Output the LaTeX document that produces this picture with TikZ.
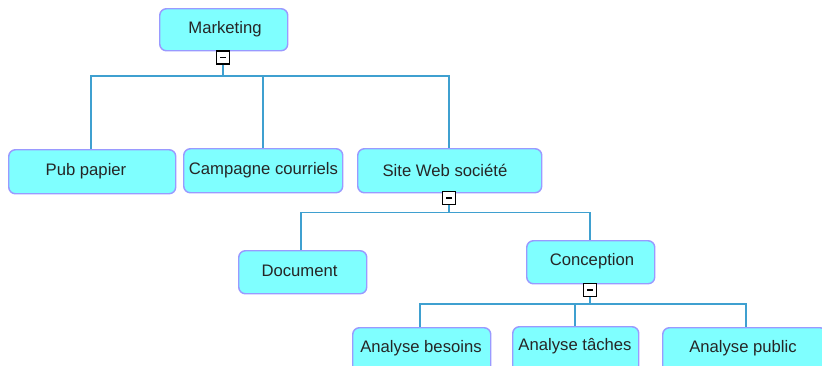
\documentclass[tikz,border=0pt]{standalone}
\usepackage{fontspec}
\setmainfont{Liberation Sans}
\definecolor{boxfill}{HTML}{7FFFFF}
\definecolor{boxline}{HTML}{9A9AFF}
\definecolor{linkc}{HTML}{3FA0D0}
\tikzset{
  x=0.75pt,y=-0.75pt,
  box/.style={draw=boxline,fill=boxfill,line width=1.1pt,rounded corners=5pt,inner sep=0pt,anchor=north west},
  lab/.style={inner sep=0pt,text=black!85,font=\fontsize{12.5}{14}\selectfont},
  link/.style={draw=linkc,line width=1.15pt},
  thinlink/.style={draw=linkc,line width=0.95pt},
  tog/.style={draw=black,fill=white,line width=1pt,minimum size=9.8pt,inner sep=0pt},
  togm/.style={fill=black,minimum width=5pt,minimum height=1.1pt,inner sep=0pt},
}
% name, left, top, right, bottom, text x, text y, text
\newcommand{\bx}[8]{\node[box,minimum width=#4*0.75pt-#2*0.75pt,minimum height=#5*0.75pt-#3*0.75pt] (#1) at (#2,#3) {};\node[lab] (#1t) at (#6,#7) {#8};}
\newcommand{\tg}[3]{\node[tog] (#1) at (#2,#3) {};\node[togm] (#1m) at (#1.center) {};}
\begin{document}
\begin{tikzpicture}
\useasboundingbox (0,0) rectangle (822,365);
\clip (0,0) rectangle (822,365);
\bx{mk}{159}{8}{287}{50}{225}{29}{Marketing}
\bx{pub}{8}{149}{175}{193}{86}{171}{Pub papier}
\bx{cam}{183}{148}{342}{192}{263.5}{170}{Campagne courriels}
\bx{site}{357}{148}{541}{192}{445}{170}{Site Web société}
\bx{doc}{238}{250}{366}{293}{299.5}{271}{Document}
\bx{con}{526}{240}{654}{283}{592}{261}{Conception}
\bx{ab}{352}{327}{490}{387}{421}{348}{Analyse besoins}
\bx{at}{512}{326}{638}{387}{575}{346}{Analyse tâches}
\bx{ap}{662}{327}{826}{387}{743}{348}{Analyse public}
\tg{t1}{223}{57.5}
\tg{t2}{449}{198}
\tg{t3}{590}{290}
\coordinate (b1) at (223,76);
\coordinate (b2) at (449,212.5);
\coordinate (b3) at (590,304);
\draw[link] (t1.south) -- (b1);
\draw[link] (91,149) |- (b1) -| (449,148);
\draw[link] (263,148) -- (263,76);
\draw[link] (t2.south) -- (b2);
\draw[link] (301,250) |- (b2) -| (590,240);
\draw[thinlink] (t3.south) -- (b3);
\draw[thinlink] (420,327) |- (b3) -| (746,327);
\draw[thinlink] (575,326) -- (575,304);
\end{tikzpicture}
\end{document}
